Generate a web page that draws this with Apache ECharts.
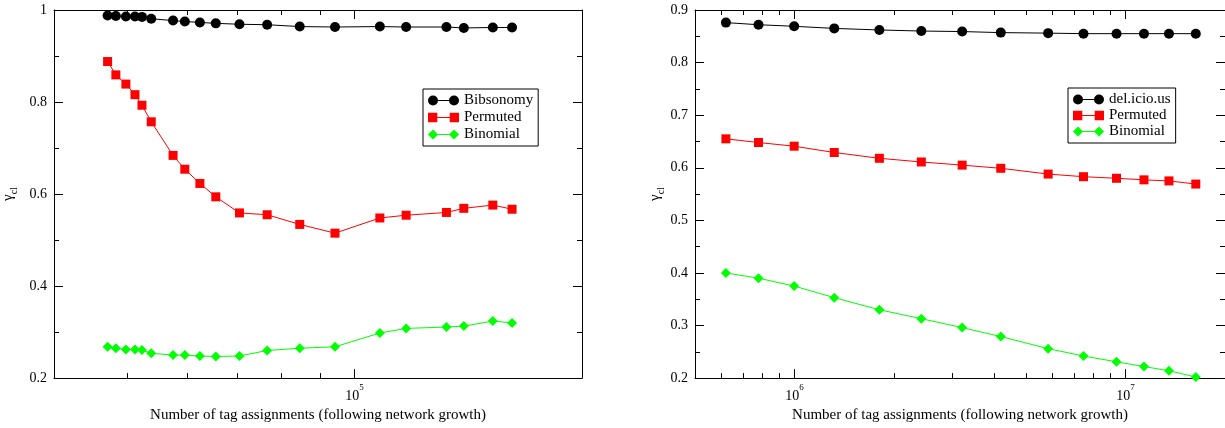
<!DOCTYPE html>
<html><head><meta charset="utf-8">
<script src="https://cdn.jsdelivr.net/npm/echarts@6/dist/echarts.min.js"></script>
<style>html,body{margin:0;padding:0;background:#fff}#c{width:1225px;height:428px}</style>
</head><body><div id="c"></div>
<script>
// ---- data: left panel (Bibsonomy) ----
const bibX = [47100, 48300, 49800, 51200, 52300, 53800, 57500, 59600, 62400, 65500, 70400, 76600, 84600, 94200, 108000, 117000, 132300, 139500, 152400, 161600];
const bibY = [0.988, 0.987, 0.986, 0.986, 0.985, 0.981, 0.977, 0.975, 0.973, 0.971, 0.969, 0.968, 0.964, 0.963, 0.964, 0.963, 0.963, 0.961, 0.962, 0.962];
const bibPermY = [0.888, 0.859, 0.839, 0.816, 0.793, 0.757, 0.684, 0.654, 0.623, 0.594, 0.559, 0.555, 0.534, 0.515, 0.548, 0.554, 0.560, 0.569, 0.576, 0.567];
const bibBinY = [0.268, 0.265, 0.262, 0.262, 0.261, 0.254, 0.250, 0.250, 0.248, 0.247, 0.248, 0.260, 0.265, 0.268, 0.298, 0.308, 0.311, 0.313, 0.324, 0.320];
// ---- data: right panel (del.icio.us) ----
const delX = [620000, 778000, 997000, 1318000, 1804000, 2416000, 3210000, 4200000, 5840000, 7470000, 9400000, 11380000, 13540000, 16320000];
const delY = [0.876, 0.872, 0.869, 0.865, 0.862, 0.860, 0.859, 0.857, 0.856, 0.855, 0.855, 0.855, 0.855, 0.855];
const delPermY = [0.655, 0.648, 0.641, 0.629, 0.618, 0.611, 0.605, 0.599, 0.588, 0.583, 0.580, 0.577, 0.575, 0.569];
const delBinY = [0.400, 0.390, 0.375, 0.353, 0.330, 0.313, 0.296, 0.279, 0.256, 0.242, 0.231, 0.222, 0.214, 0.202];
// ---- axes / ticks / labels ----
const leftXRange = [40000, 200000];
const rightXRange = [500000, 20000000];
const leftMajorTicks = [100000];
const leftMinorTicks = [50000, 60000, 70000, 80000, 90000];
const rightMajorTicks = [1000000, 10000000];
const rightMinorTicks = [600000, 700000, 800000, 900000, 2000000, 3000000, 4000000, 5000000, 6000000, 7000000, 8000000, 9000000];
const leftYRange = [0.2, 1.0, 0.2];
const rightYRange = [0.2, 0.9, 0.1];
const xName = 'Number of tag assignments (following network growth)';
const leftSeriesNames = ['Bibsonomy', 'Permuted', 'Binomial'];
const rightSeriesNames = ['del.icio.us', 'Permuted', 'Binomial'];

const FONT = "'Liberation Serif', 'DejaVu Serif', serif";
const BLACK = '#000000', RED = '#ff0000', GREEN = '#00ff00';

const ICON_CIRC = 'path://M0,5 A5,5 0 1,1 10,5 A5,5 0 1,1 0,5 Z M21,5 A5,5 0 1,1 31,5 A5,5 0 1,1 21,5 Z M9,4.5 L22,4.5 L22,5.5 L9,5.5 Z';
const ICON_RECT = 'path://M0.5,0.5 L9.5,0.5 L9.5,9.5 L0.5,9.5 Z M21.5,0.5 L30.5,0.5 L30.5,9.5 L21.5,9.5 Z M9,4.5 L22,4.5 L22,5.5 L9,5.5 Z';
const ICON_DIAM = 'path://M0,5 L5,0 L10,5 L5,10 Z M21,5 L26,0 L31,5 L26,10 Z M9,4.5 L22,4.5 L22,5.5 L9,5.5 Z';

function xAxesFor(grid, range, major, minor) {
  const base = {type: 'log', logBase: 10, gridIndex: grid, min: range[0], max: range[1], splitLine: {show: false}, minorTick: {show: false}};
  const supLabel = {
    customValues: major, margin: 5, fontFamily: FONT,
    formatter: v => '{b|10}{s|' + Math.round(Math.log10(v)) + '}',
    rich: {
      b: {fontSize: 14, fontFamily: FONT, color: BLACK, lineHeight: 20, verticalAlign: 'bottom'},
      s: {fontSize: 9, fontFamily: FONT, color: BLACK, lineHeight: 20, verticalAlign: 'top'}
    }
  };
  return [
    Object.assign({}, base, {position: 'bottom', axisLine: {show: true, lineStyle: {color: BLACK, width: 1}},
      axisTick: {show: true, inside: true, length: 9, customValues: major, lineStyle: {color: BLACK}},
      axisLabel: supLabel,
      name: xName, nameLocation: 'middle', nameGap: 24,
      nameTextStyle: {fontFamily: FONT, fontSize: 15, color: BLACK}}),
    Object.assign({}, base, {position: 'bottom', axisLine: {show: false},
      axisTick: {show: true, inside: true, length: 5, customValues: minor, lineStyle: {color: BLACK}},
      axisLabel: {show: false}}),
    Object.assign({}, base, {position: 'top', axisLine: {show: true, lineStyle: {color: BLACK, width: 1}},
      axisTick: {show: true, inside: true, length: 9, customValues: major, lineStyle: {color: BLACK}},
      axisLabel: {show: false}}),
    Object.assign({}, base, {position: 'top', axisLine: {show: false},
      axisTick: {show: true, inside: true, length: 5, customValues: minor, lineStyle: {color: BLACK}},
      axisLabel: {show: false}})
  ];
}

function yAxesFor(grid, r, nameGap) {
  const base = {type: 'value', gridIndex: grid, min: r[0], max: r[1], interval: r[2], splitLine: {show: false},
    axisLine: {show: true, lineStyle: {color: BLACK, width: 1}},
    axisTick: {show: true, inside: true, length: 9, lineStyle: {color: BLACK}},
    minorTick: {show: true, splitNumber: 2, length: 5, lineStyle: {color: BLACK}}};
  return [
    Object.assign({}, base, {position: 'left',
      axisLabel: {fontFamily: FONT, fontSize: 14, color: BLACK, margin: 7},
      name: '{g|γ}{s|cl}', nameLocation: 'middle', nameGap: nameGap, nameRotate: 90,
      nameTextStyle: {fontFamily: FONT, rich: {
        g: {fontFamily: FONT, fontSize: 15, color: BLACK, lineHeight: 18, verticalAlign: 'top'},
        s: {fontFamily: FONT, fontSize: 10, color: BLACK, lineHeight: 18, verticalAlign: 'bottom'}
      }}}),
    Object.assign({}, base, {position: 'right', axisLabel: {show: false}})
  ];
}

function mkSeries(name, xs, ys, color, symbol, size, xIdx, yIdx) {
  return {
    name: name, type: 'line', xAxisIndex: xIdx, yAxisIndex: yIdx,
    data: xs.map((x, i) => [x, ys[i]]),
    symbol: symbol, symbolSize: size, showSymbol: true,
    itemStyle: {color: color, borderWidth: 0},
    lineStyle: {color: color, width: 1},
    emphasis: {disabled: true}, animation: false
  };
}

function legendFor(left, top, names, gap) {
  const icons = [ICON_CIRC, ICON_RECT, ICON_DIAM];
  return {
    orient: 'vertical', left: left, top: top, itemWidth: 31, itemHeight: 10, itemGap: gap,
    padding: [4, 5, 4, 5], borderColor: BLACK, borderWidth: 1, backgroundColor: '#fff',
    selectedMode: false,
    textStyle: {fontFamily: FONT, fontSize: 15, color: BLACK, lineHeight: 15},
    data: names.map((n, i) => ({name: n, icon: icons[i]}))
  };
}

const chart = echarts.init(document.getElementById('c'), null, {renderer: 'canvas'});
chart.setOption({
  animation: false,
  backgroundColor: '#ffffff',
  textStyle: {fontFamily: FONT, color: BLACK},
  grid: [
    {left: 52, top: 10, width: 530, height: 372},
    {left: 695, top: 10, width: 531, height: 372}
  ],
  xAxis: [].concat(xAxesFor(0, leftXRange, leftMajorTicks, leftMinorTicks), xAxesFor(1, rightXRange, rightMajorTicks, rightMinorTicks)),
  yAxis: [].concat(yAxesFor(0, leftYRange, 35), yAxesFor(1, rightYRange, 29)),
  legend: [
    legendFor(423, 89, leftSeriesNames, 2),
    legendFor(1068, 88, rightSeriesNames, 1)
  ],
  series: [
    mkSeries(leftSeriesNames[0], bibX, bibY, BLACK, 'circle', 10, 0, 0),
    mkSeries(leftSeriesNames[1], bibX, bibPermY, RED, 'rect', 9, 0, 0),
    mkSeries(leftSeriesNames[2], bibX, bibBinY, GREEN, 'diamond', 10, 0, 0),
    mkSeries(rightSeriesNames[0], delX, delY, BLACK, 'circle', 10, 4, 2),
    mkSeries(rightSeriesNames[1], delX, delPermY, RED, 'rect', 9, 4, 2),
    mkSeries(rightSeriesNames[2], delX, delBinY, GREEN, 'diamond', 10, 4, 2)
  ]
});
</script>
</body></html>
